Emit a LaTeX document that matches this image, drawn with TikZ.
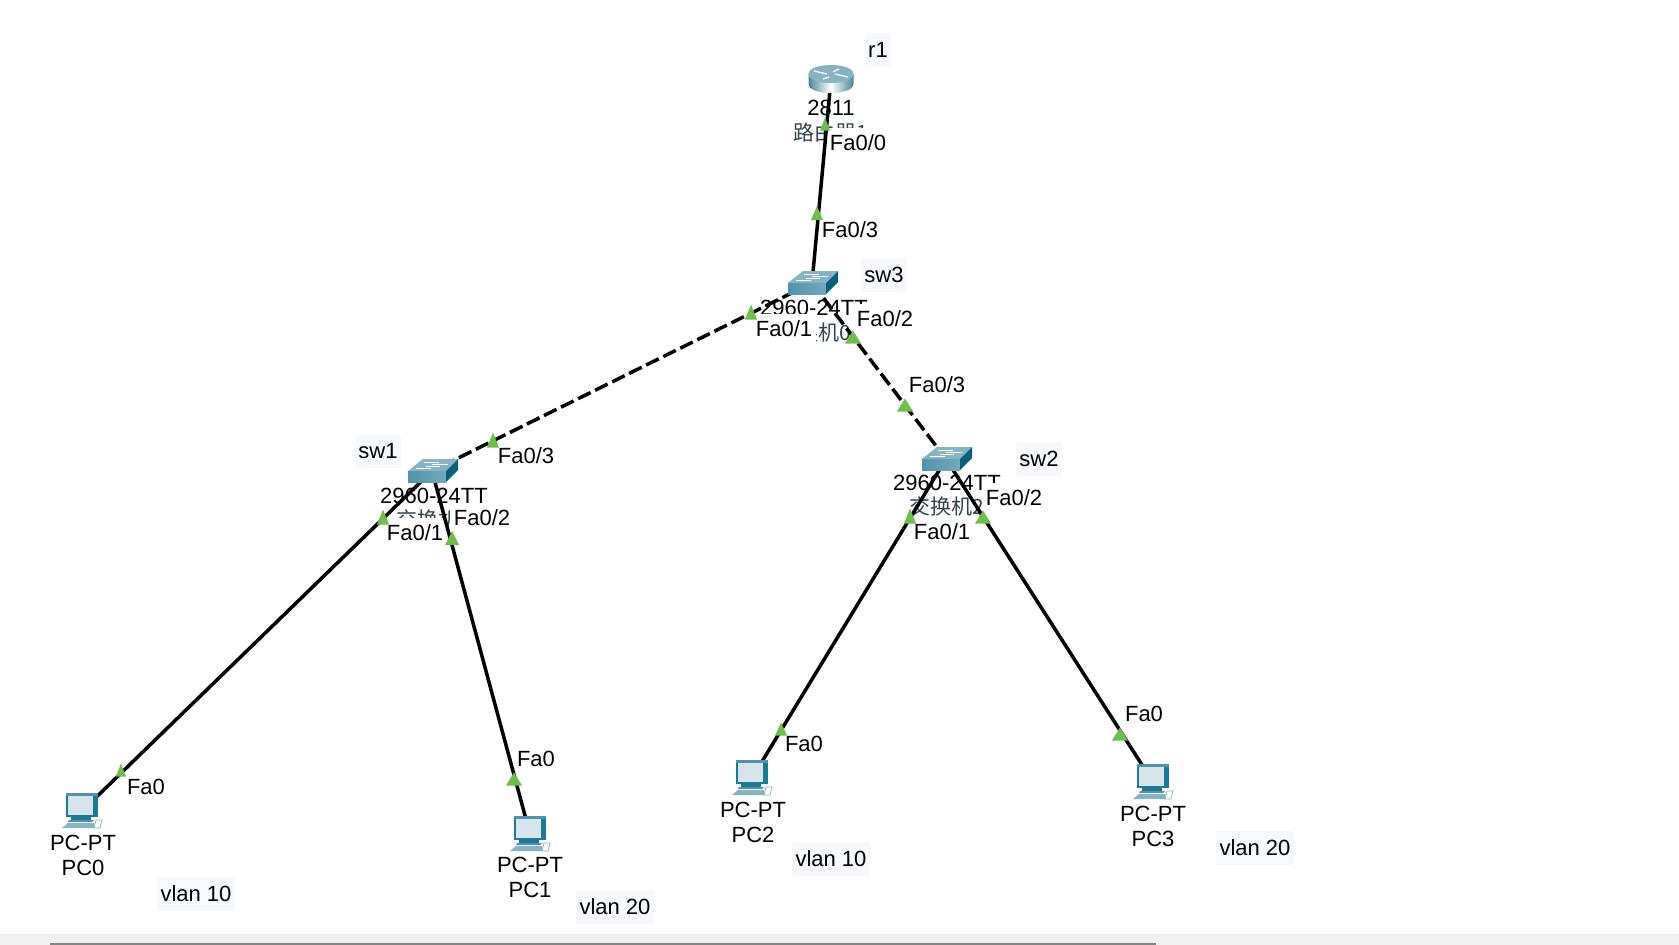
\documentclass[tikz,border=0pt]{standalone}
\usepackage{fontspec}
\setmainfont{Liberation Sans}
\newfontfamily\cjkfont{Noto Sans CJK SC}[Scale=1]
\definecolor{notebg}{HTML}{F7F8FE}
\definecolor{lampgreen}{HTML}{6DBE4B}
\definecolor{band}{HTML}{EFEFEF}
\definecolor{bandline}{HTML}{858585}
\definecolor{teal1}{HTML}{86B4C5}
\definecolor{teal2}{HTML}{4F93AD}
\definecolor{teal3}{HTML}{06607A}
\definecolor{teal4}{HTML}{1B7A96}
\definecolor{cjkcol}{HTML}{33444F}
\newcommand{\lamp}[4]{\fill[lampgreen] ({#1-#3},{#2+#4/2}) -- ({#1+#3},{#2+#4/2}) -- (#1,{#2-#4/2}) -- cycle;}
\tikzset{
  txt/.style={font=\fontsize{22}{24}\selectfont,text height=15.5pt,text depth=0pt,inner sep=0pt,anchor=center},
  devlabel/.style={txt},
  cjklabel/.style={txt,font=\cjkfont\fontsize{21}{24}\selectfont,text=cjkcol},
  portlabel/.style={txt,fill=white,inner xsep=4pt,inner ysep=7.25pt},
  notelabel/.style={txt,fill=notebg,inner xsep=3.5pt,inner ysep=9.25pt},
  link/.style={line width=3.5pt,black},
  trunk/.style={link,dash pattern=on 14pt off 5pt},
  switchicon/.pic={
    \fill[teal1] (-24,0) -- (-9,-12) -- (26,-12) -- (14,0) -- cycle;
    \shade[left color=teal2,right color=teal2!80!white] (-24,0) rectangle (14,11);
    \fill[teal3] (14,0) -- (26,-12) -- (26,-1) -- (14,11) -- cycle;
    \draw[white,line width=1pt] (-8,-9) -- (7,-9) (0,-7) -- (16,-7) (-16,-3) -- (-1,-3) (-6,-5) -- (8,-5);
  },
  routericon/.pic={
    \shade[left color=teal2!90!black,right color=teal2!90!black,middle color=white]
      (-22.5,-5) -- (-22.5,5) .. controls (-22.5,17) and (22.5,17) .. (22.5,5) -- (22.5,-5) -- cycle;
    \fill[teal1] (-22.5,-5) .. controls (-22.5,-17) and (22.5,-17) .. (22.5,-5)
      .. controls (22.5,7) and (-22.5,7) .. (-22.5,-5) -- cycle;
    \draw[white,line width=1.2pt] (-17,-8) -- (-4,-5) (17,-2) -- (4,-5) (-8,0) -- (-2,-2) (8,-10) -- (2,-7);
  },
  pcicon/.pic={
    \fill[teal4] (-16,-18) rectangle (16,6);
    \fill[teal2] (-16,-18) rectangle (16,-15);
    \fill[teal1!35!white] (-14,-15) rectangle (11,4);
    \fill[teal4] (-11,4) rectangle (9,9);
    \fill[teal2] (-13,9) -- (12,9) -- (10,11) -- (-14,11) -- cycle;
    \fill[teal1] (-14,12) -- (12,12) -- (13,17) -- (-20,17) -- cycle;
    \draw[teal1,line width=.8pt,fill=white] (14,9) -- (20,9) -- (18,17) -- (12,17) -- cycle;
  }
}
\begin{document}
\begin{tikzpicture}[x=1pt,y=-1pt]
\useasboundingbox (0,0) rectangle (1679,945);
\fill[band] (0,934) rectangle (1679,945);
\fill[bandline] (50,943) rectangle (1156,945);

\coordinate (r1) at (831,79);
\coordinate (sw3) at (812,283);
\coordinate (sw1) at (432,471);
\coordinate (sw2) at (946,459);
\coordinate (pc0) at (82,811);
\coordinate (pc1) at (530,834);
\coordinate (pc2) at (752,778);
\coordinate (pc3) at (1153,782);

% device labels
\node[devlabel] (r1model) at (831,108) {2811};
\node[cjklabel] (r1name) at (831,133) {路由器1};
\node[devlabel] (sw3model) at (814,308) {2960-24TT};
\node[cjklabel] (sw3name) at (814,333) {交换机0};
\node[devlabel] (sw1model) at (434,496) {2960-24TT};
\node[cjklabel] (sw1name) at (434,520) {交换机1};
\node[devlabel] (sw2model) at (947,483) {2960-24TT};
\node[cjklabel] (sw2name) at (947,507) {交换机2};
\node[devlabel] (pc0model) at (83,843) {PC-PT};
\node[devlabel] (pc0name) at (83,868) {PC0};
\node[devlabel] (pc1model) at (530,865) {PC-PT};
\node[devlabel] (pc1name) at (530,890) {PC1};
\node[devlabel] (pc2model) at (753,810) {PC-PT};
\node[devlabel] (pc2name) at (753,835) {PC2};
\node[devlabel] (pc3model) at (1153,814) {PC-PT};
\node[devlabel] (pc3name) at (1153,839) {PC3};

% notes
\node[notelabel] (nr1) at (878,50) {r1};
\node[notelabel] (nsw3) at (884,275) {sw3};
\node[notelabel] (nsw1) at (378,451) {sw1};
\node[notelabel] (nsw2) at (1039,459) {sw2};
\node[notelabel] (v1) at (196,894) {vlan 10};
\node[notelabel] (v2) at (615,907) {vlan 20};
\node[notelabel] (v3) at (831,859) {vlan 10};
\node[notelabel] (v4) at (1255,848) {vlan 20};

% port labels
\node[portlabel] (p1) at (858,143) {Fa0/0};
\node[portlabel] (p2) at (850,230) {Fa0/3};
\node[portlabel] (p3) at (784,329) {Fa0/1};
\node[portlabel] (p4) at (885,319) {Fa0/2};
\node[portlabel] (p5) at (937,385) {Fa0/3};
\node[portlabel] (p6) at (526,456) {Fa0/3};
\node[portlabel] (p7) at (482,518) {Fa0/2};
\node[portlabel] (p8) at (415,533) {Fa0/1};
\node[portlabel] (p9) at (1014,498) {Fa0/2};
\node[portlabel] (p10) at (942,532) {Fa0/1};
\node[portlabel] (p11) at (146,787) {Fa0};
\node[portlabel] (p12) at (536,759) {Fa0};
\node[portlabel] (p13) at (804,744) {Fa0};
\node[portlabel] (p14) at (1144,714) {Fa0};

% links
\draw[link] (r1) -- (sw3);
\draw[trunk] (sw3) -- (sw1);
\draw[trunk] (sw3) -- (sw2);
\draw[link] (sw1) -- (pc0);
\draw[link] (sw1) -- (pc1);
\draw[link] (sw2) -- (pc2);
\draw[link] (sw2) -- (pc3);

% link lights
\lamp{825}{124}{5}{13}
\lamp{817}{213}{6}{14}
\lamp{751}{312}{6}{15}
\lamp{853}{337}{8}{13}
\lamp{905}{405}{8}{13}
\lamp{493}{440}{6}{15}
\lamp{383}{517}{6}{15}
\lamp{452}{538}{7}{14}
\lamp{910}{516}{6}{15}
\lamp{983}{517}{8}{13}
\lamp{121}{770}{5}{13}
\lamp{514}{779}{8}{13}
\lamp{781}{729}{6}{13}
\lamp{1120}{734}{8}{13}

% device icons
\pic at (r1) {routericon};
\pic at (sw3) {switchicon};
\pic at (sw1) {switchicon};
\pic at (sw2) {switchicon};
\pic at (pc0) {pcicon};
\pic at (pc1) {pcicon};
\pic at (pc2) {pcicon};
\pic at (pc3) {pcicon};
\end{tikzpicture}
\end{document}
